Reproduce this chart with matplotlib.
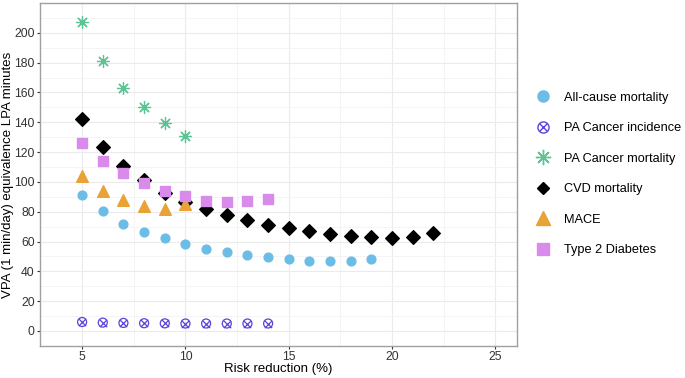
import matplotlib.pyplot as plt
from matplotlib.lines import Line2D

plt.rcParams['font.family'] = ['Liberation Sans', 'DejaVu Sans']

# risk reduction (%) per outcome
x_allcause = [5, 6, 7, 8, 9, 10, 11, 12, 13, 14, 15, 16, 17, 18, 19]
allcause = [91.5, 80.3, 72, 66.4, 62.2, 58.2, 55, 53, 51, 49.5, 48.1, 47.2, 46.8, 47.2, 48.5]

x_ca_inc = [5, 6, 7, 8, 9, 10, 11, 12, 13, 14]
ca_inc = [6, 5.6, 5.4, 5.2, 5.1, 5, 5, 5, 5, 5]

x_ca_mort = [5, 6, 7, 8, 9, 10]
ca_mort = [207, 181, 163, 150, 139.4, 130.9]

x_cvd = [5, 6, 7, 8, 9, 10, 11, 12, 13, 14, 15, 16, 17, 18, 19, 20, 21, 22]
cvd = [142, 123.5, 110.5, 101, 92.8, 86.6, 81.9, 78, 74.3, 71.4, 68.9, 66.9, 65.1, 64,
       63.1, 62.6, 63.1, 65.8]

x_mace = [5, 6, 7, 8, 9, 10]
mace = [104, 94, 88, 84, 82, 85]

x_t2d = [5, 6, 7, 8, 9, 10, 11, 12, 13, 14]
t2d = [126, 114, 105.8, 99, 93.7, 90.6, 87.5, 86.6, 87, 88.6]

c_blue = '#6CBDE6'
c_inc = '#5A43DA'
c_green = '#5CC494'
c_mace = '#E8A236'
c_t2d = '#D88BEA'

fig = plt.figure(figsize=(6.85, 3.78), dpi=100)
ax = fig.add_axes([0.058, 0.085, 0.697, 0.907])

ax.scatter(x_allcause, allcause, s=40, marker='o', color=c_blue, zorder=3)
ax.scatter(x_ca_inc, ca_inc, s=42, marker='o', facecolor='none', edgecolor=c_inc, linewidth=0.9, zorder=3)
ax.scatter(x_ca_inc, ca_inc, s=28, marker='x', color=c_inc, linewidth=0.9, zorder=3)
ax.scatter(x_ca_mort, ca_mort, s=75, marker=(8, 2, 0), color=c_green, linewidth=0.9, zorder=3)
ax.scatter(x_cvd, cvd, s=48, marker='D', color='black', zorder=3)
ax.scatter(x_mace, mace, s=70, marker='^', color=c_mace, zorder=3)
ax.scatter(x_t2d, t2d, s=45, marker='s', color=c_t2d, zorder=3)

ax.set_xlim(2.95, 26.05)
ax.set_ylim(-10, 220)
ax.set_xticks([5, 10, 15, 20, 25])
ax.set_xticks([7.5, 12.5, 17.5, 22.5], minor=True)
ax.set_yticks(range(0, 201, 20))
ax.set_yticks(range(10, 220, 20), minor=True)
ax.grid(True, which='major', color='#EBEBEB', linewidth=0.8)
ax.grid(True, which='minor', color='#F3F3F3', linewidth=0.6)
ax.set_axisbelow(True)
for s in ax.spines.values():
    s.set_color('#A0A0A0')
    s.set_linewidth(1.0)
ax.tick_params(which='major', length=2.5, color='#333333', labelsize=8.8, labelcolor='#333333', pad=1)
ax.tick_params(which='minor', length=0)

ax.set_xlabel('Risk reduction (%)', fontsize=9.5, labelpad=0)
ax.set_ylabel('VPA (1 min/day) equivalence LPA minutes', fontsize=9.5, labelpad=0.3)

handles = [
    Line2D([], [], marker='o', linestyle='none', color=c_blue, markersize=8),
    (Line2D([], [], marker='o', linestyle='none', markerfacecolor='none', markeredgecolor=c_inc, markersize=8),
     Line2D([], [], marker='x', linestyle='none', color=c_inc, markersize=6)),
    Line2D([], [], marker=(8, 2, 0), linestyle='none', color=c_green, markersize=11),
    Line2D([], [], marker='D', linestyle='none', color='black', markersize=6.5),
    Line2D([], [], marker='^', linestyle='none', color=c_mace, markersize=10),
    Line2D([], [], marker='s', linestyle='none', color=c_t2d, markersize=8),
]
labels = ['All-cause mortality', 'PA Cancer incidence', 'PA Cancer mortality',
          'CVD mortality', 'MACE', 'Type 2 Diabetes']
fig.legend(handles, labels, loc='center left', bbox_to_anchor=(0.765, 0.54),
           frameon=False, fontsize=9.2, labelspacing=1.45, handletextpad=1.0, handlelength=1.2)

fig.savefig('out.png', dpi=100)
